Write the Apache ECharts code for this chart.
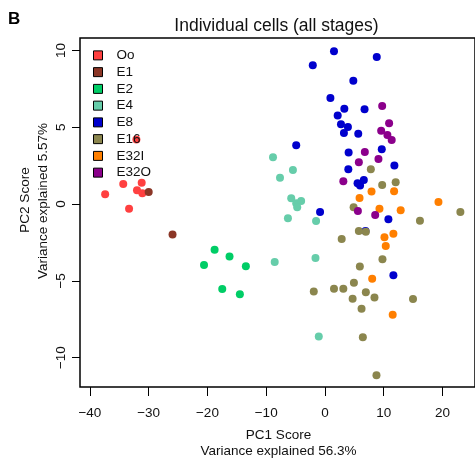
<!DOCTYPE html>
<html>
<head>
<meta charset="utf-8">
<script src="https://cdn.jsdelivr.net/npm/echarts@6/dist/echarts.min.js"></script>
<style>html,body{margin:0;padding:0;background:#fff}#c{width:475px;height:463px}</style>
</head>
<body>
<div id="c"></div>
<script>
const stages = ['Oo', 'E1', 'E2', 'E4', 'E8', 'E16', 'E32I', 'E32O'];
const stageColors = ['#FF4040', '#8B3626', '#00CD66', '#66CDAA', '#0000CD', '#8B864E', '#FF7F00', '#8B008B'];
const xTicks = [-40, -30, -20, -10, 0, 10, 20];
const yTicks = [-10, -5, 0, 5, 10];

const oo = [[-32.09,4.21],[-34.33,1.31],[-31.19,1.39],[-31.99,0.90],[-31.08,0.70],[-37.41,0.64],[-33.34,-0.30]];
const e1 = [[-30.0,0.79],[-25.94,-1.99]];
const e2 = [[-18.78,-2.97],[-16.24,-3.42],[-20.58,-3.96],[-13.46,-4.05],[-17.48,-5.53],[-14.48,-5.87]];
const e4 = [[-8.84,3.05],[-5.45,2.22],[-7.65,1.72],[-5.74,0.38],[-4.89,0.05],[-4.05,0.20],[-4.72,-0.21],[-6.30,-0.92],[-1.51,-1.10],[-1.61,-3.51],[-1.05,-8.63],[-8.55,-3.77]];
const e8 = [[1.54,9.95],[8.82,9.58],[-2.07,9.04],[4.83,8.03],[0.93,6.91],[3.30,6.21],[6.74,6.17],[2.17,5.76],[2.73,5.20],[3.91,5.02],[3.23,4.63],[5.67,4.58],[-4.89,3.83],[9.67,3.57],[4.03,3.35],[11.82,2.51],[3.98,2.27],[5.55,1.35],[6.62,1.57],[5.98,1.21],[-0.83,-0.51],[10.80,-0.99],[11.65,-4.64],[6.9,-1.75]];
const e16 = [[7.81,2.27],[12.04,1.42],[9.74,1.24],[4.88,-0.21],[16.17,-1.08],[23.05,-0.51],[5.77,-1.75],[6.96,-1.80],[2.85,-2.27],[9.79,-3.59],[5.94,-4.06],[-1.90,-5.70],[1.54,-5.51],[3.13,-5.51],[4.93,-5.12],[6.96,-5.74],[4.71,-6.16],[8.43,-6.09],[6.23,-6.81],[14.99,-6.18],[6.45,-8.67],[8.77,-11.15]];
const e32i = [[7.93,0.81],[11.77,0.83],[5.89,0.40],[19.32,0.14],[9.28,-0.30],[12.89,-0.40],[10.13,-2.16],[11.65,-1.93],[10.35,-2.73],[8.04,-4.86],[11.53,-7.20]];
const e32o = [[9.74,6.39],[10.92,5.26],[9.57,4.78],[10.63,4.50],[11.36,4.17],[6.79,3.39],[9.11,2.94],[5.77,2.72],[3.13,1.48],[5.61,-0.45],[8.55,-0.71]];
const stageData = [oo, e1, e2, e4, e8, e16, e32i, e32o];

const FONT = '"Liberation Sans", Arial, Helvetica, sans-serif';
const fmt = v => String(v).replace('-', '\u2212');

const chart = echarts.init(document.getElementById('c'), null, {renderer: 'canvas'});
chart.setOption({
  animation: false,
  backgroundColor: '#fff',
  textStyle: {fontFamily: FONT},
  grid: {left: 80, right: -2, top: 38, bottom: 76, show: true, borderColor: '#000', borderWidth: 1.5, backgroundColor: 'transparent'},
  xAxis: {
    type: 'value', min: -41.69, max: 25.54, position: 'bottom',
    axisLine: {show: false, onZero: false},
    splitLine: {show: false},
    axisTick: {show: true, length: 9, lineStyle: {color: '#000', width: 1}, customValues: xTicks},
    axisLabel: {customValues: xTicks, formatter: fmt, fontSize: 13.5, color: '#111', margin: 19, fontFamily: FONT}
  },
  yAxis: {
    type: 'value', min: -11.91, max: 10.81, position: 'left',
    axisLine: {show: false, onZero: false},
    splitLine: {show: false},
    axisTick: {show: true, length: 8, lineStyle: {color: '#000', width: 1}, customValues: yTicks},
    axisLabel: {customValues: yTicks, formatter: fmt, fontSize: 13.5, color: '#111', margin: 12, rotate: 90, fontFamily: FONT}
  },
  legend: {
    orient: 'vertical', left: 93, top: 47, padding: 0, itemGap: 0,
    icon: 'rect', itemWidth: 9, itemHeight: 9,
    itemStyle: {borderColor: '#000', borderWidth: 1},
    textStyle: {fontSize: 13.5, color: '#111', fontFamily: FONT, lineHeight: 16.75, padding: [0, 0, 0, 9]},
    data: stages
  },
  series: stages.map((name, i) => ({
    name: name, type: 'scatter', data: stageData[i], symbol: 'circle', symbolSize: 8,
    itemStyle: {color: stageColors[i], opacity: 1}
  })),
  graphic: [
    {type: 'text', x: 8, y: 19, style: {text: 'B', font: 'bold 17px ' + FONT, fill: '#000', align: 'left', verticalAlign: 'middle'}},
    {type: 'text', x: 276.5, y: 26.5, style: {text: 'Individual cells (all stages)', font: '17.5px ' + FONT, fill: '#111', align: 'center', verticalAlign: 'middle'}},
    {type: 'text', x: 278.5, y: 435, style: {text: 'PC1 Score', font: '13.5px ' + FONT, fill: '#111', align: 'center', verticalAlign: 'middle'}},
    {type: 'text', x: 278.5, y: 451, style: {text: 'Variance explained 56.3%', font: '13.5px ' + FONT, fill: '#111', align: 'center', verticalAlign: 'middle'}},
    {type: 'text', x: 25, y: 200, rotation: Math.PI / 2, style: {text: 'PC2 Score', font: '13.5px ' + FONT, fill: '#111', align: 'center', verticalAlign: 'middle'}},
    {type: 'text', x: 43, y: 201, rotation: Math.PI / 2, style: {text: 'Variance explained 5.57%', font: '13.5px ' + FONT, fill: '#111', align: 'center', verticalAlign: 'middle'}}
  ]
});
</script>
</body>
</html>
